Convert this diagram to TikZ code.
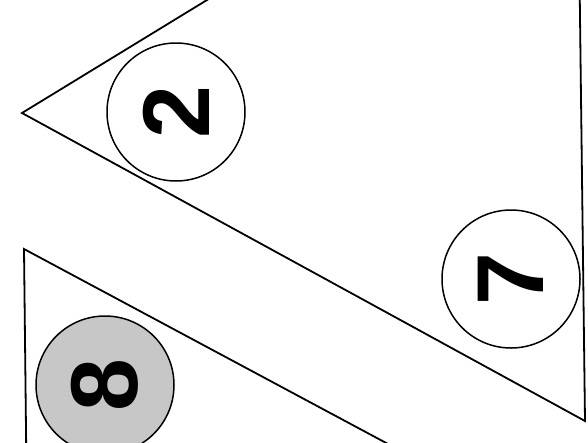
\documentclass[tikz,border=0pt]{standalone}
\usepackage{fontspec}
\setmainfont{Liberation Sans}
\begin{document}
\begin{tikzpicture}[x=1pt,y=-1pt,
  edge/.style={line width=1.8pt,line join=miter},
  badge/.style={circle,draw,line width=1.5pt,minimum size=138pt,inner sep=0pt,
    font=\fontsize{95}{95}\selectfont\bfseries},
  shaded/.style={fill=black!22}]
\useasboundingbox (0,0) rectangle (588,442);
\clip (0,0) rectangle (588,442);
% upper triangle
\coordinate (A) at (22,113);
\coordinate (B) at (577,-226);
\coordinate (C) at (585,421);
\draw[edge] (A) -- (B) -- (C) -- cycle;
% lower triangle
\coordinate (D) at (24,249);
\coordinate (E) at (27,520);
\coordinate (F) at (530,520);
\draw[edge] (D) -- (E) -- (F) -- cycle;
% numbered circles
\node[badge] (n2) at (176,112) {\rotatebox{90}{2}};
\node[badge] (n7) at (511,279) {\rotatebox{90}{7}};
\node[badge,shaded] (n8) at (105,385) {\rotatebox{90}{8}};
\end{tikzpicture}
\end{document}
